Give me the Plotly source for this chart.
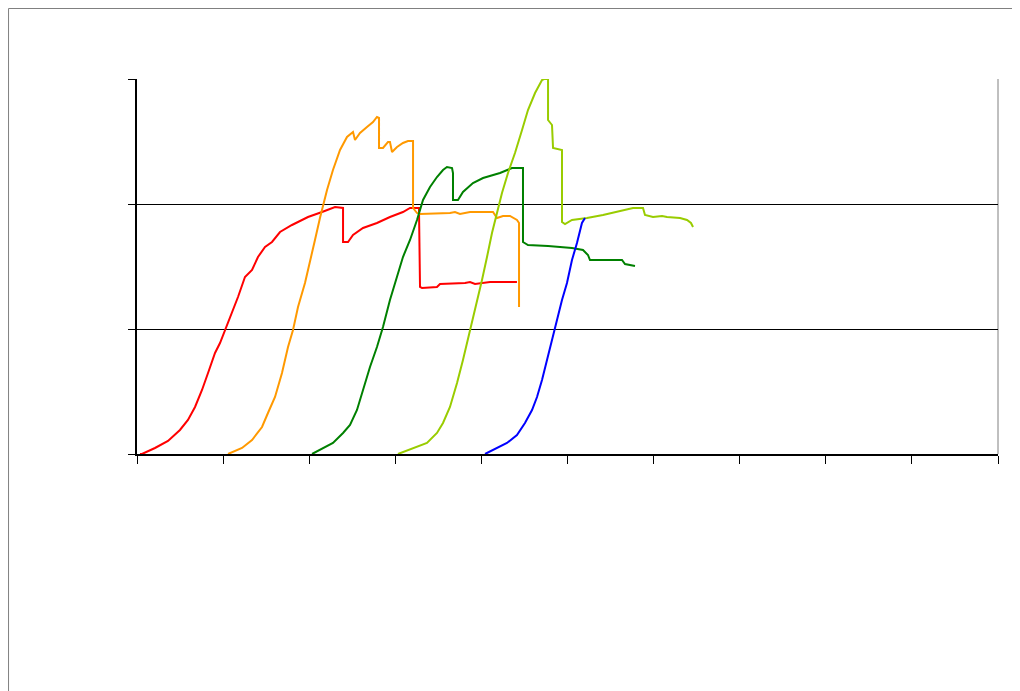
import plotly.graph_objects as go

# Series data (arbitrary units: x 0-100, y 0-30)
red_x = [0.35, 0.58, 2.09, 3.60, 4.99, 5.92, 6.74, 7.55, 8.25, 9.06, 9.64, 10.22, 11.03, 11.73, 12.54,
         13.36, 14.05, 14.87, 15.68, 16.61, 18.00, 19.86, 21.49, 23.00, 23.93, 23.93, 24.51, 25.09,
         26.25, 27.87, 29.38, 30.89, 31.71, 32.75, 32.87, 33.10, 34.84, 35.19, 38.10, 38.68, 39.26,
         40.65, 41.00, 44.13]
red_y = [0, 0, 0.48, 1.04, 1.92, 2.72, 3.76, 5.12, 6.48, 8.08, 8.88, 9.92, 11.28, 12.56, 14.16,
         14.72, 15.76, 16.56, 16.96, 17.76, 18.32, 18.96, 19.36, 19.76, 19.68, 16.96, 16.96, 17.52,
         18.08, 18.48, 18.96, 19.36, 19.68, 19.68, 13.36, 13.28, 13.36, 13.60, 13.68, 13.76, 13.60,
         13.68, 13.76, 13.76]

orange_x = [10.57, 12.20, 13.36, 14.52, 15.21, 16.03, 16.84, 17.54, 18.12, 18.70, 19.51, 20.09, 20.67,
            21.25, 22.07, 22.76, 23.58, 24.39, 25.09, 25.32, 25.90, 26.71, 27.41, 27.87, 28.11, 28.11,
            28.57, 29.15, 29.38, 29.62, 30.20, 30.89, 31.47, 32.06, 32.06, 32.52, 32.87, 36.35, 36.93,
            37.51, 38.68, 41.35, 41.81, 42.51, 43.32, 44.13, 44.37, 44.37]
orange_y = [0, 0.48, 1.12, 2.16, 3.28, 4.56, 6.48, 8.56, 9.92, 11.76, 13.68, 15.52, 17.12,
            18.88, 21.12, 22.72, 24.32, 25.36, 25.76, 25.12, 25.68, 26.16, 26.56, 26.96, 26.88, 24.48,
            24.48, 24.96, 24.96, 24.16, 24.56, 24.88, 25.04, 25.04, 19.68, 19.28, 19.20, 19.28, 19.36,
            19.20, 19.36, 19.36, 18.88, 19.04, 19.04, 18.72, 18.48, 11.76]

green_x = [20.33, 21.60, 22.76, 23.93, 24.74, 25.55, 26.25, 27.06, 27.87, 28.57, 29.38, 30.20, 30.89,
           31.71, 32.52, 33.22, 34.03, 34.84, 35.54, 36.00, 36.59, 36.70, 36.70, 37.28, 37.86, 39.02,
           40.19, 42.16, 43.55, 44.83, 44.83, 45.41, 47.74, 50.52, 51.80, 52.38, 52.61, 56.33, 56.68,
           57.84]
green_y = [0, 0.48, 0.88, 1.68, 2.32, 3.52, 5.12, 6.96, 8.56, 10.16, 12.32, 14.16, 15.76,
           17.12, 18.72, 20.32, 21.36, 22.16, 22.72, 22.96, 22.88, 22.48, 20.32, 20.32, 20.96, 21.68,
           22.08, 22.48, 22.88, 22.88, 16.96, 16.72, 16.64, 16.48, 16.32, 15.92, 15.52, 15.52, 15.20,
           15.04]

lime_x = [30.31, 32.06, 33.68, 34.84, 35.54, 36.35, 37.17, 37.86, 38.68, 39.49, 40.07, 40.65, 41.23,
          41.81, 42.39, 43.09, 43.90, 44.72, 45.41, 46.23, 47.04, 47.27, 47.74, 47.74, 48.20, 48.32,
          49.36, 49.36, 49.71, 50.52, 52.26, 54.12, 56.10, 57.61, 58.77, 59.00, 59.93, 60.98, 61.56,
          63.07, 63.88, 64.34, 64.58]
lime_y = [0, 0.48, 0.88, 1.68, 2.48, 3.76, 5.68, 7.52, 9.92, 12.08, 13.92, 15.76, 17.68,
          19.28, 20.88, 22.48, 24.08, 25.92, 27.52, 28.88, 29.92, 30.0, 30.0, 26.72, 26.32, 24.48,
          24.32, 18.56, 18.40, 18.72, 18.88, 19.12, 19.44, 19.68, 19.68, 19.12, 18.96, 19.04, 18.96,
          18.88, 18.72, 18.48, 18.16]

blue_x = [40.42, 41.81, 42.97, 44.13, 45.06, 45.88, 46.46, 47.04, 47.62, 48.20, 48.78, 49.36, 49.94,
          50.52, 51.10, 51.68, 52.03]
blue_y = [0, 0.48, 0.88, 1.52, 2.48, 3.52, 4.56, 5.92, 7.52, 9.12, 10.96, 12.32, 13.68,
          15.52, 16.88, 18.48, 18.88]

series = [
    (red_x, red_y, "#FF0000"),
    (orange_x, orange_y, "#FF9900"),
    (green_x, green_y, "#008000"),
    (lime_x, lime_y, "#99CC00"),
    (blue_x, blue_y, "#0000FF"),
]

fig = go.Figure()
for xs, ys, col in series:
    fig.add_trace(go.Scatter(x=xs, y=ys, mode="lines",
                             line=dict(color=col, width=2), showlegend=False,
                             hoverinfo="skip"))

fig.update_layout(
    width=1012, height=683,
    margin=dict(l=129, r=22, t=71, b=237),
    paper_bgcolor="white", plot_bgcolor="white",
    showlegend=False,
    xaxis=dict(range=[0, 100], tickmode="linear", tick0=0, dtick=10,
               showgrid=False, zeroline=False, showticklabels=False,
               ticks="outside", ticklen=8, tickcolor="#000000", tickwidth=1,
               showline=True, linecolor="#000000", linewidth=2),
    yaxis=dict(range=[0, 30], tickmode="linear", tick0=0, dtick=10,
               showgrid=True, gridcolor="#000000", gridwidth=1,
               zeroline=False, showticklabels=False,
               ticks="outside", ticklen=7, tickcolor="#000000", tickwidth=1,
               showline=True, linecolor="#000000", linewidth=2),
    shapes=[
        # plot-area right border
        dict(type="line", xref="paper", yref="paper", x0=1, x1=1, y0=0, y1=1,
             line=dict(color="#808080", width=1), layer="below"),
        # chart-area border (top and left visible)
        dict(type="line", xref="paper", yref="paper", x0=-0.1492, x1=1.03, y0=1.188, y1=1.188,
             line=dict(color="#808080", width=1)),
        dict(type="line", xref="paper", yref="paper", x0=-0.1492, x1=-0.1492, y0=1.188, y1=-0.65,
             line=dict(color="#808080", width=1)),
    ],
)

fig.write_html("out.html")
